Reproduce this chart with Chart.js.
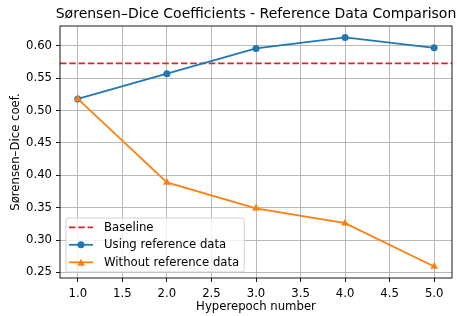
<!DOCTYPE html>
<html>
<head>
<meta charset="utf-8">
<script src="https://cdn.jsdelivr.net/npm/chart.js@4.4.0/dist/chart.umd.min.js"></script>
<style>
  html, body { margin: 0; padding: 0; background: #fff; }
  #wrap { width: 457px; height: 316px; }
</style>
</head>
<body>
<div id="wrap"><canvas id="chart"></canvas></div>
<script>
// values
const epochs = [1, 2, 3, 4, 5];
const usingRef = [0.518, 0.557, 0.596, 0.613, 0.597];
const withoutRef = [0.518, 0.389, 0.349, 0.326, 0.259];
const baseline = 0.573;
const xTicks = [1.0, 1.5, 2.0, 2.5, 3.0, 3.5, 4.0, 4.5, 5.0];
const yTicks = [0.25, 0.30, 0.35, 0.40, 0.45, 0.50, 0.55, 0.60];
const xLimits = [0.8, 5.2];
const yLimits = [0.2413, 0.6307];
const titleText = 'Sørensen–Dice Coefficients - Reference Data Comparison';

const FONT = "'DejaVu Sans', sans-serif";
const FS = 11.7;
Chart.defaults.font.family = FONT;
Chart.defaults.color = '#000';

// title centred over the axes, frame around the plot, legend inside lower-left
const framePlugin = {
    id: 'frame',
    afterDatasetsDraw(chart) {
        const ctx = chart.ctx;
        const a = chart.chartArea;
        ctx.save();
        ctx.fillStyle = '#000';
        ctx.font = '14px ' + FONT;
        ctx.textAlign = 'center';
        ctx.textBaseline = 'alphabetic';
        ctx.fillText(titleText, (a.left + a.right) / 2, 18);

        const items = [
            { label: 'Baseline', color: '#d62728', dash: [6.5, 2.8], marker: null },
            { label: 'Using reference data', color: '#1f77b4', dash: [], marker: 'circle' },
            { label: 'Without reference data', color: '#ff7f0e', dash: [], marker: 'triangle' }
        ];
        ctx.font = FS + 'px ' + FONT;
        let maxW = 0;
        items.forEach(it => { maxW = Math.max(maxW, ctx.measureText(it.label).width); });
        const bx = a.left + 6, by = a.bottom - 60;
        const textX = bx + 38;
        const bw = textX - bx + maxW + 5, bh = 54;
        ctx.beginPath();
        ctx.roundRect(bx, by, bw, bh, 2.5);
        ctx.fillStyle = 'rgba(255,255,255,0.8)';
        ctx.fill();
        ctx.strokeStyle = '#cccccc';
        ctx.lineWidth = 0.9;
        ctx.stroke();
        items.forEach((it, i) => {
            const y = by + 9.3 + i * 17.5;
            ctx.strokeStyle = it.color;
            ctx.lineWidth = 1.75;
            ctx.setLineDash(it.dash);
            ctx.beginPath();
            ctx.moveTo(bx + 3, y);
            ctx.lineTo(bx + 27, y);
            ctx.stroke();
            ctx.setLineDash([]);
            ctx.fillStyle = it.color;
            if (it.marker === 'circle') {
                ctx.beginPath();
                ctx.arc(bx + 15, y, 3.5, 0, Math.PI * 2);
                ctx.fill();
            } else if (it.marker === 'triangle') {
                ctx.beginPath();
                ctx.moveTo(bx + 15, y - 3.6);
                ctx.lineTo(bx + 18.8, y + 3.4);
                ctx.lineTo(bx + 11.2, y + 3.4);
                ctx.closePath();
                ctx.fill();
            }
            ctx.fillStyle = '#000';
            ctx.textBaseline = 'middle';
            ctx.textAlign = 'left';
            ctx.fillText(it.label, textX, y + 0.5);
        });
        ctx.strokeStyle = '#000';
        ctx.lineWidth = 0.9;
        ctx.strokeRect(a.left, a.top, a.right - a.left, a.bottom - a.top);
        ctx.restore();
    }
};

new Chart(document.getElementById('chart').getContext('2d'), {
    type: 'line',
    data: {
        datasets: [{
            label: 'Baseline',
            data: xLimits.map(x => ({ x: x, y: baseline })),
            borderColor: '#d62728',
            borderWidth: 1.75,
            borderDash: [6.5, 2.8],
            pointRadius: 0,
            order: 3
        }, {
            label: 'Using reference data',
            data: epochs.map((x, i) => ({ x: x, y: usingRef[i] })),
            borderColor: '#1f77b4',
            backgroundColor: '#1f77b4',
            borderWidth: 1.75,
            pointRadius: 3.5,
            pointBorderWidth: 0,
            order: 2
        }, {
            label: 'Without reference data',
            data: epochs.map((x, i) => ({ x: x, y: withoutRef[i] })),
            borderColor: '#ff7f0e',
            backgroundColor: '#ff7f0e',
            borderWidth: 1.75,
            pointStyle: 'triangle',
            pointRadius: 4.5,
            pointBorderWidth: 0,
            order: 1
        }]
    },
    options: {
        responsive: true,
        maintainAspectRatio: false,
        animation: false,
        layout: { padding: { left: 0, right: 5, top: 26, bottom: 0 } },
        plugins: {
            legend: { display: false },
            tooltip: { enabled: false },
            title: { display: false }
        },
        scales: {
            x: {
                type: 'linear',
                min: xLimits[0],
                max: xLimits[1],
                afterBuildTicks: s => { s.ticks = xTicks.map(v => ({ value: v })); },
                afterFit: s => { s.height = 38; },
                border: { display: false },
                grid: { color: '#b0b0b0', lineWidth: 0.9, tickColor: '#000', tickLength: 4, tickWidth: 0.9 },
                ticks: { font: { size: FS }, padding: 4.5, maxRotation: 0, callback: v => v.toFixed(1) },
                title: { display: true, text: 'Hyperepoch number', font: { size: FS }, padding: { top: 0, bottom: 2 } }
            },
            y: {
                type: 'linear',
                min: yLimits[0],
                max: yLimits[1],
                afterBuildTicks: s => { s.ticks = yTicks.map(v => ({ value: v })); },
                afterFit: s => { s.width = 60; },
                border: { display: false },
                grid: { color: '#b0b0b0', lineWidth: 0.9, tickColor: '#000', tickLength: 4, tickWidth: 0.9 },
                ticks: { font: { size: FS }, padding: 4, callback: v => v.toFixed(2) },
                title: { display: true, text: 'Sørensen–Dice coef.', font: { size: FS }, padding: { top: 8.5, bottom: 0 } }
            }
        }
    },
    plugins: [framePlugin]
});
</script>
</body>
</html>
